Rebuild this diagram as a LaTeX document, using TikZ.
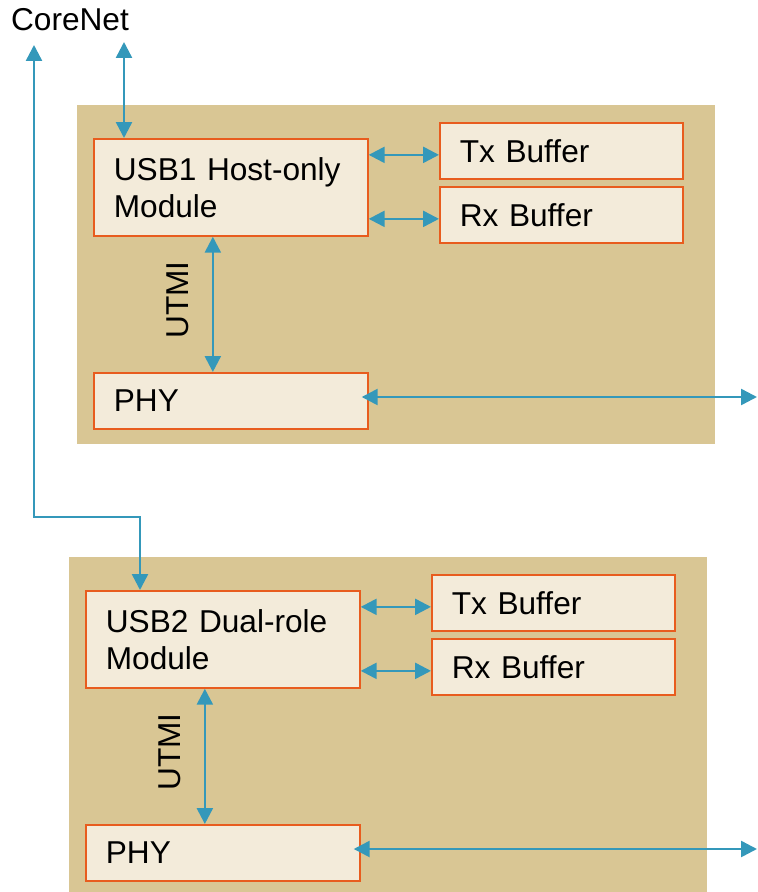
\documentclass[tikz,border=0pt]{standalone}
\usepackage{fontspec}
\setmainfont{Liberation Sans}
\usetikzlibrary{arrows.meta, positioning}
\definecolor{panel}{HTML}{D9C694}
\definecolor{boxfill}{HTML}{F3EBDA}
\definecolor{boxline}{HTML}{E85C1E}
\definecolor{wirecol}{HTML}{3498BA}
\tikzset{
  blk/.style={draw=boxline, fill=boxfill, line width=0.035cm, anchor=north west,
    align=left, inner xsep=0.4cm, inner ysep=0pt, minimum height=1.12cm},
  core/.style={blk, text width=4.68cm},
  buf/.style={blk, text width=4.06cm},
  wire/.style={<->, draw=wirecol, line width=0.05cm},
}
\begin{document}
\begin{tikzpicture}[x=0.02cm, y=-0.02cm, >={Triangle[length=0.32cm, width=0.32cm]},
    every node/.style={font=\fontsize{18}{21}\selectfont}]
  \clip (0,0) rectangle (757,892);
  % the two USB blocks, the lower one shifted down
  \foreach \k/\dx/\dy/\role in {1/0/0/Host-only, 2/-8/452/Dual-role}{
    \begin{scope}[shift={(\dx,\dy)}]
      \fill[panel] (77,105) rectangle (715,444);
      \node[core, minimum height=1.94cm] (usb\k) at (93,138) {USB\k{} \role\\Module};
      \node[buf] (tx\k) at (439,122) {Tx Buffer};
      \node[buf] (rx\k) at (439,186) {Rx Buffer};
      \node[core] (phy\k) at (93,372) {PHY};
      \node[rotate=90] (utmi\k) at (178,300) {UTMI};
    \end{scope}
    \coordinate (out\k) at (757,{397+\dy});
    \draw[wire] ([yshift=-0.08cm]tx\k.west -| usb\k.east) -- ([yshift=-0.08cm]tx\k.west);
    \draw[wire] ([yshift=-0.08cm]rx\k.west -| usb\k.east) -- ([yshift=-0.08cm]rx\k.west);
    \draw[wire] ([xshift=-0.36cm]usb\k.south) -- ([xshift=-0.36cm]phy\k.north);
    \draw[wire] ([xshift=-0.14cm]phy\k.east |- out\k) -- (out\k);
  }
  % CoreNet links
  \node (corenet) at (70,20) {CoreNet};
  \coordinate (cnA) at (124,42);
  \coordinate (cnB) at (34,45);
  \coordinate (bend) at (140,517);
  \draw[wire] (cnA) -- (cnA |- usb1.north);
  \draw[wire] (cnB) |- (bend) -- (bend |- usb2.north);
\end{tikzpicture}
\end{document}
